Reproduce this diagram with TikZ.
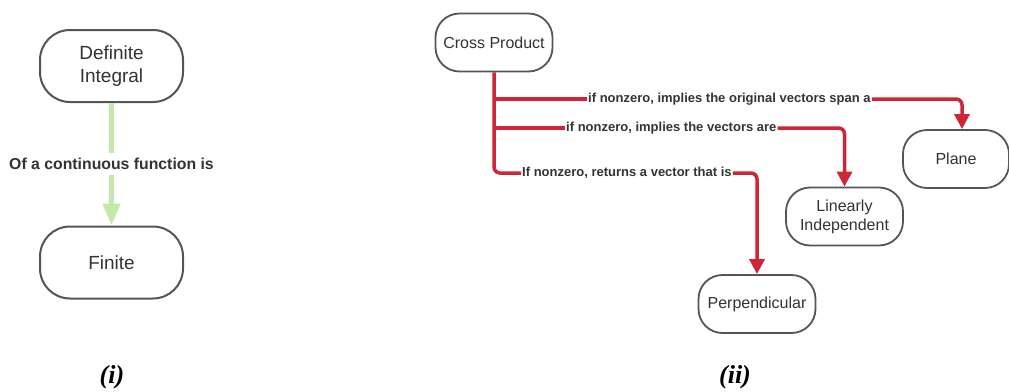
\documentclass[tikz,border=0pt]{standalone}
\usepackage{fontspec}
\setmainfont{Liberation Sans}
\newfontfamily\capfont{Liberation Serif}
\usetikzlibrary{arrows.meta}
\definecolor{boxline}{HTML}{555555}
\definecolor{ink}{HTML}{333333}
\definecolor{linkred}{RGB}{206,38,54}
\definecolor{linkgreen}{RGB}{196,232,170}
\begin{document}
\begin{tikzpicture}[x=1pt,y=-1pt,
  bigbox/.style={draw=boxline, line width=2pt, fill=white, rounded corners=30pt,
    minimum width=143pt, minimum height=72pt, align=center, text=ink,
    font=\fontsize{19}{23}\selectfont, inner sep=0pt},
  smallbox/.style={draw=boxline, line width=1.8pt, fill=white, rounded corners=24pt,
    minimum width=117pt, minimum height=58pt, align=center, text=ink,
    font=\fontsize{16}{19}\selectfont, inner sep=0pt},
  redlink/.style={draw=linkred, line width=3.5pt, rounded corners=6pt},
  redtip/.style={-{Triangle[length=15pt,width=15pt]}},
  greenlink/.style={draw=linkgreen, line width=5pt,
    -{Triangle[length=22pt,width=17pt]}},
  linklabel/.style={font=\bfseries\fontsize{13}{15}\selectfont, text=ink,
    inner xsep=1pt, inner ysep=0pt, anchor=west},
  caption/.style={font=\capfont\bfseries\itshape\fontsize{26}{28}\selectfont}]
\useasboundingbox (0,0) rectangle (1009,391);

% (i) definite integral
\node[bigbox] (di) at (111.5,66) {Definite\\Integral};
\node[bigbox] (fin) at (111.5,262.5) {Finite};
\draw[greenlink] (di.south) -- (fin.north)
  node[midway, fill=white, font=\bfseries\fontsize{15.8}{18}\selectfont,
       text=ink, inner xsep=2pt, inner ysep=5pt] (lg) {Of a continuous function is};
\node[caption] (capi) at (112,377) {(i)};

% (ii) cross product
\node[smallbox] (cp) at (494,42.5) {Cross Product};
\node[smallbox, minimum width=106pt] (plane) at (956,159) {Plane};
\node[smallbox] (lin) at (844.5,216.5) {Linearly\\Independent};
\node[smallbox] (perp) at (757,304) {Perpendicular};

\node[linklabel] (l1) at (587,99) {if nonzero, implies the original vectors span a};
\node[linklabel] (l2) at (565,128) {if nonzero, implies the vectors are};
\node[linklabel] (l3) at (521,173) {If nonzero, returns a vector that is};

\draw[redlink] (cp.south) |- (l3.west);
\draw[redlink] (cp.south |- l1.west) -- (l1.west);
\draw[redlink] (cp.south |- l2.west) -- (l2.west);

\draw[redlink, redtip] (l1.east) -| ([xshift=6pt]plane.north);
\draw[redlink, redtip] (l2.east) -| (lin.north);
\draw[redlink, redtip] (l3.east) -| (perp.north);

\node[caption] (capii) at (735,377) {(ii)};
\end{tikzpicture}
\end{document}
